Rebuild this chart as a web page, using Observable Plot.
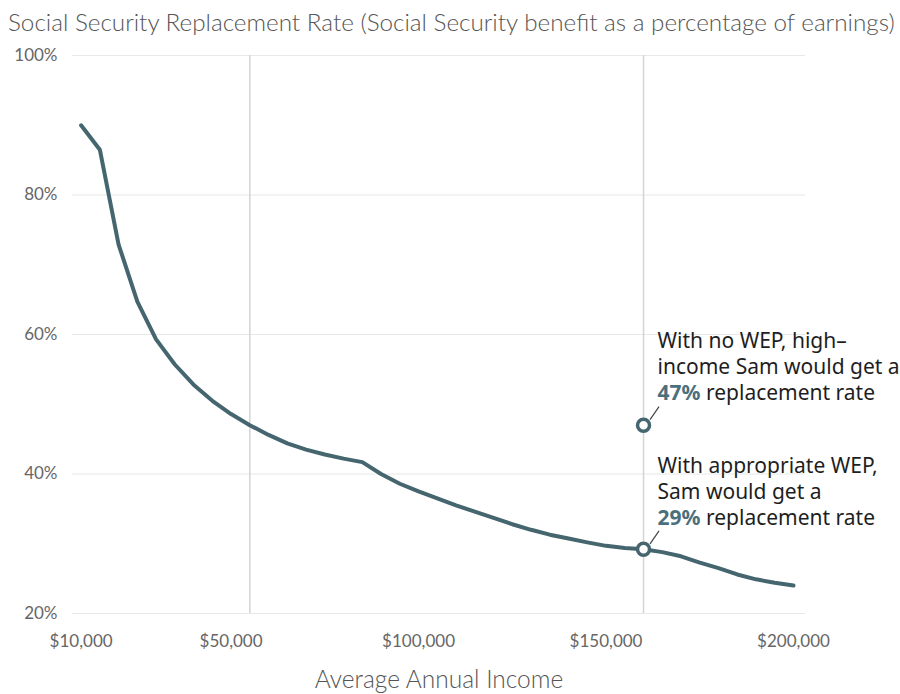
<!DOCTYPE html>
<html><head><meta charset="utf-8">
<script src="https://cdn.jsdelivr.net/npm/d3@7"></script>
<script src="https://cdn.jsdelivr.net/npm/@observablehq/plot@0.6"></script>
<style>
body{margin:0;background:#fff;}
#title{font-family:Lato,sans-serif;font-weight:300;color:#555;font-size:22px;height:44px;line-height:44px;padding-left:8px;white-space:nowrap;}
#title span{display:inline-block;}
</style></head><body>
<div id="title"><span id="tt">Social Security Replacement Rate (Social Security benefit as a percentage of earnings)</span></div>
<div id="chart"></div>
<script>
// Data
const incomes = [10000,15000,20000,25000,30000,35000,40000,45000,50000,55000,60000,65000,70000,75000,80000,85000,90000,95000,100000,105000,110000,115000,120000,125000,130000,135000,140000,145000,150000,155000,160000,165000,170000,175000,180000,185000,190000,195000,200000];
const rates = [90.0,86.5,72.9,64.7,59.3,55.7,52.8,50.5,48.6,47.0,45.6,44.4,43.5,42.8,42.2,41.7,40.0,38.6,37.5,36.5,35.5,34.6,33.7,32.8,32.0,31.3,30.75,30.2,29.7,29.4,29.2,28.8,28.2,27.3,26.5,25.6,24.9,24.4,24.0];
const samIncome = 160000;
const samRates = [47, 29.2];
const samLabels = ["With no WEP, high–\nincome Sam would get a\n47% replacement rate", "With appropriate WEP,\nSam would get a\n29% replacement rate"];
const samPct = ["47%", "29%"];
const xTicks = [10000, 50000, 100000, 150000, 200000];
const yTicks = [20, 40, 60, 80, 100];
const vRules = [55000, 160000];

const teal = "#45656f";
const tealText = "#4b6f7c";

// fit title
const tt = document.getElementById("tt");
const w = tt.getBoundingClientRect().width;
tt.parentNode.style.fontSize = (22 * 887 / w) + "px";

const data = incomes.map((x, i) => ({income: x, rate: rates[i]}));
const sam = samRates.map((r, i) => ({income: samIncome, rate: r, label: samLabels[i]}));

const plot = Plot.plot({
  width: 900, height: 650,
  marginTop: 11, marginBottom: 81, marginLeft: 72, marginRight: 95,
  style: {fontFamily: "Lato, sans-serif", fontSize: "17px", color: "#666", background: "#fff", overflow: "visible"},
  x: {domain: [7706, 203200], ticks: xTicks, tickFormat: d3.format("$,"), tickSize: 0, tickPadding: 21, label: null},
  y: {domain: [20, 100], ticks: yTicks, tickFormat: d => d + "%", tickSize: 0, tickPadding: 15, label: null},
  marks: [
    Plot.ruleY(yTicks, {stroke: "#e8e8e8", strokeWidth: 1.2}),
    Plot.ruleX(vRules, {stroke: "#d4d4d4", strokeWidth: 1.5}),
    Plot.line(data, {x: "income", y: "rate", stroke: teal, strokeWidth: 4, strokeLinejoin: "round", strokeLinecap: "round"}),
    Plot.dot(sam, {x: "income", y: "rate", r: 6, stroke: teal, strokeWidth: 3.5, fill: "white"}),
    Plot.text([sam[0]], {x: "income", y: "rate", text: "label", textAnchor: "start", lineAnchor: "bottom", lineHeight: 1.24, dx: 14, dy: -25, fontSize: 21, fill: "#1e1e1e", fontFamily: "Noto Sans, sans-serif"}),
    Plot.text([sam[1]], {x: "income", y: "rate", text: "label", textAnchor: "start", lineAnchor: "bottom", lineHeight: 1.24, dx: 14, dy: -24, fontSize: 21, fill: "#1e1e1e", fontFamily: "Noto Sans, sans-serif"}),
    Plot.text(["Average Annual Income"], {frameAnchor: "bottom", text: d => d, dy: 74, fontSize: 24.5, fill: "#555", fontWeight: 300})
  ]
});
document.getElementById("chart").appendChild(plot);

// bold percentages in annotation
const svg = d3.select(plot);
svg.selectAll("tspan").each(function() {
  const txt = this.textContent;
  const pct = samPct.find(p => txt.startsWith(p));
  if (pct && this.children.length === 0) {
    this.textContent = "";
    d3.select(this).append("tspan").attr("font-weight", 700).attr("fill", tealText).text(pct);
    d3.select(this).append("tspan").text(txt.slice(pct.length));
  }
});

// leader lines from dots to notes
const sx = plot.scale("x"), sy = plot.scale("y");
svg.append("g").selectAll("line").data(sam).join("line")
  .attr("x1", d => sx.apply(d.income) + 7).attr("y1", d => sy.apply(d.rate) - 5)
  .attr("x2", d => sx.apply(d.income) + 16).attr("y2", d => sy.apply(d.rate) - 18)
  .attr("stroke", "#444").attr("stroke-width", 1.2);
</script>
</body></html>
